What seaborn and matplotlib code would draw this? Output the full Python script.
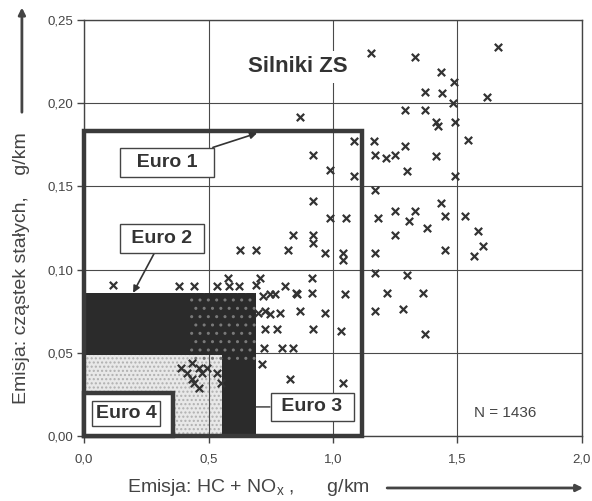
import numpy as np
import pandas as pd
import seaborn as sns
import matplotlib.pyplot as plt
from matplotlib.patches import Rectangle

sns.set_style('white')
plt.rcParams['font.family'] = ['Liberation Sans', 'DejaVu Sans']

# HC + NOx [g/km] and particulate matter [g/km]
hc_nox = [1.153, 1.329, 1.663, 1.434, 1.486, 1.369, 1.438, 1.618, 0.867, 1.289,
          1.369, 1.482, 1.414, 1.422, 1.490, 1.542, 0.920, 1.084, 1.165, 1.169,
          1.213, 1.249, 1.289, 1.414, 0.988, 1.084, 1.297, 1.490, 1.169, 0.920,
          1.434, 1.249, 1.329, 0.988, 1.052, 1.181, 1.305, 1.450, 1.530, 1.378,
          1.582, 0.839, 0.920, 1.249, 0.920, 1.602, 1.450, 1.169, 1.040, 1.040,
          1.566, 0.627, 0.691, 0.819, 0.968, 0.916, 1.169, 1.297, 0.851, 0.916,
          1.048, 1.217, 1.361, 0.867, 0.968, 1.169, 1.281, 0.920, 1.032, 1.369,
          0.839, 0.827, 1.040, 0.707, 0.691, 0.807, 0.719, 0.747, 0.767, 0.855,
          0.699, 0.727, 0.747, 0.787, 0.727, 0.775, 0.723, 0.795, 0.715, 0.116,
          0.382, 0.442, 0.534, 0.578, 0.582, 0.622, 0.390, 0.434, 0.414, 0.462,
          0.442, 0.462, 0.474, 0.434, 0.534, 0.550, 0.494]
pm = [0.230, 0.228, 0.234, 0.219, 0.213, 0.207, 0.206, 0.204, 0.192, 0.196,
      0.196, 0.200, 0.189, 0.186, 0.189, 0.178, 0.169, 0.177, 0.177, 0.169,
      0.167, 0.169, 0.174, 0.168, 0.160, 0.156, 0.159, 0.156, 0.148, 0.141,
      0.140, 0.135, 0.135, 0.131, 0.131, 0.131, 0.129, 0.132, 0.132, 0.125,
      0.123, 0.121, 0.121, 0.121, 0.116, 0.114, 0.112, 0.110, 0.110, 0.106,
      0.108, 0.112, 0.112, 0.112, 0.110, 0.095, 0.098, 0.097, 0.086, 0.086,
      0.085, 0.086, 0.086, 0.075, 0.074, 0.075, 0.076, 0.064, 0.063, 0.061,
      0.053, 0.034, 0.032, 0.095, 0.091, 0.090, 0.084, 0.085, 0.085, 0.085,
      0.074, 0.075, 0.073, 0.074, 0.064, 0.064, 0.053, 0.053, 0.043, 0.091,
      0.090, 0.090, 0.090, 0.095, 0.090, 0.090, 0.041, 0.044, 0.038, 0.041,
      0.032, 0.029, 0.038, 0.034, 0.038, 0.032, 0.041]

# limits as drawn (HC+NOx, PM)
euro_names = ['Euro 1', 'Euro 2', 'Euro 3', 'Euro 4']
euro_hc = [1.116, 0.69, 0.554, 0.357]
euro_pm = [0.183, 0.086, 0.0487, 0.026]

xticks = [0.0, 0.5, 1.0, 1.5, 2.0]
xlabels = ['0,0', '0,5', '1,0', '1,5', '2,0']
yticks = [0.0, 0.05, 0.10, 0.15, 0.20, 0.25]
ylabels = ['0,00', '0,05', '0,10', '0,15', '0,20', '0,25']

df = pd.DataFrame({'hc_nox': hc_nox, 'pm': pm})

fig = plt.figure(figsize=(5.92, 5.01), dpi=100)
ax = fig.add_axes([0.142, 0.130, 0.841, 0.830])
ax.set_axisbelow(True)

dark = '#2b2b2b'
ink = '#3a3a3a'
# Euro 3 area, light stipple
ax.add_patch(Rectangle((0, 0), euro_hc[2], euro_pm[2], facecolor='#e8e8e8',
                       edgecolor='#b0b0b0', hatch='....', lw=0, zorder=0.3))
# Euro 2 area, dark L shape around Euro 3
ax.add_patch(Rectangle((0, euro_pm[2]), euro_hc[1], euro_pm[1] - euro_pm[2],
                       facecolor=dark, lw=0, zorder=1))
ax.add_patch(Rectangle((euro_hc[2], 0), euro_hc[1] - euro_hc[2], euro_pm[2],
                       facecolor=dark, lw=0, zorder=1))
# speckle where many points pile up
ax.add_patch(Rectangle((0.42, 0.045), euro_hc[1] - 0.42, euro_pm[1] - 0.045,
                       facecolor='none', edgecolor='#7a7a7a', hatch='..',
                       lw=0, zorder=1.1))

ax.grid(True, color='#4a4a4a', lw=0.8)

sns.scatterplot(data=df, x='hc_nox', y='pm', marker='x', color='#333333',
                s=28, linewidth=1.6, ax=ax, zorder=2, legend=False)

# Euro 1 frame
ax.add_patch(Rectangle((0, 0), euro_hc[0], euro_pm[0], facecolor='none',
                       edgecolor=ink, lw=3.2, zorder=3, clip_on=False))
# Euro 4 frame
ax.add_patch(Rectangle((0, 0), euro_hc[3], euro_pm[3], facecolor='white',
                       edgecolor=ink, lw=3.2, zorder=3, clip_on=False))

box = dict(boxstyle='square,pad=0.3', fc='white', ec='#444444', lw=1)
arrow = dict(arrowstyle='-|>', color='#333333', lw=1.2, mutation_scale=10,
             shrinkA=0, shrinkB=0)
lab = dict(ha='center', va='center', fontsize=14, fontweight='bold',
           color='#333333', zorder=4)
ax.annotate('  ' + euro_names[0] + '  ', xy=(0.695, 0.182),
            xytext=(0.333, 0.1645), bbox=box, arrowprops=arrow, **lab)
ax.annotate(' ' + euro_names[1] + ' ', xy=(0.197, 0.086),
            xytext=(0.313, 0.1185), bbox=box, arrowprops=arrow, **lab)
ax.annotate(' ' + euro_names[2] + ' ', xy=(euro_hc[1], 0.0174),
            xytext=(0.916, 0.0174), bbox=box,
            arrowprops=dict(arrowstyle='-', color='#333333', lw=1,
                            shrinkA=0, shrinkB=0), **lab)
ax.text(0.169, 0.0135, euro_names[3],
        bbox=dict(boxstyle='square,pad=0.2', fc='white', ec='#444444', lw=1),
        **lab)

ax.text(0.859, 0.222, 'Silniki ZS', ha='center', va='center', fontsize=16,
        fontweight='bold', color='#333333', zorder=4,
        bbox=dict(boxstyle='square,pad=0.25', fc='white', ec='none'))
ax.text(1.69, 0.0138, 'N = 1436', ha='center', va='center', fontsize=11,
        color='#444444', zorder=4)

ax.set_xlim(0, 2.0)
ax.set_ylim(0, 0.25)
ax.set_xticks(xticks, xlabels)
ax.set_yticks(yticks, ylabels)
ax.tick_params(direction='out', length=5, width=1, color='#444444',
               labelsize=9.5, labelcolor='#444444', left=True, bottom=True,
               pad=3)
ax.tick_params(axis='x', pad=8)
for s in ax.spines.values():
    s.set_color('#444444')
    s.set_linewidth(1)
ax.set_xlabel('')
ax.set_ylabel('')

fig.text(0.2145, 0.026, 'Emisja: HC + NO$_\\mathregular{x}$ ,      g/km',
         ha='left', va='center', fontsize=14, color='#444444')
fig.text(0.036, 0.465, 'Emisja: cząstek stałych,    g/km', rotation=90,
         ha='center', va='center', fontsize=14, color='#444444')
ax.annotate('', xy=(0.985, 0.026), xytext=(0.654, 0.026),
            xycoords='figure fraction', annotation_clip=False,
            arrowprops=dict(arrowstyle='-|>', color='#444444', lw=2,
                            mutation_scale=10, shrinkA=0, shrinkB=0))
ax.annotate('', xy=(0.037, 0.985), xytext=(0.037, 0.776),
            xycoords='figure fraction', annotation_clip=False,
            arrowprops=dict(arrowstyle='-|>', color='#444444', lw=2,
                            mutation_scale=10, shrinkA=0, shrinkB=0))

fig.savefig('out.png', dpi=100)
